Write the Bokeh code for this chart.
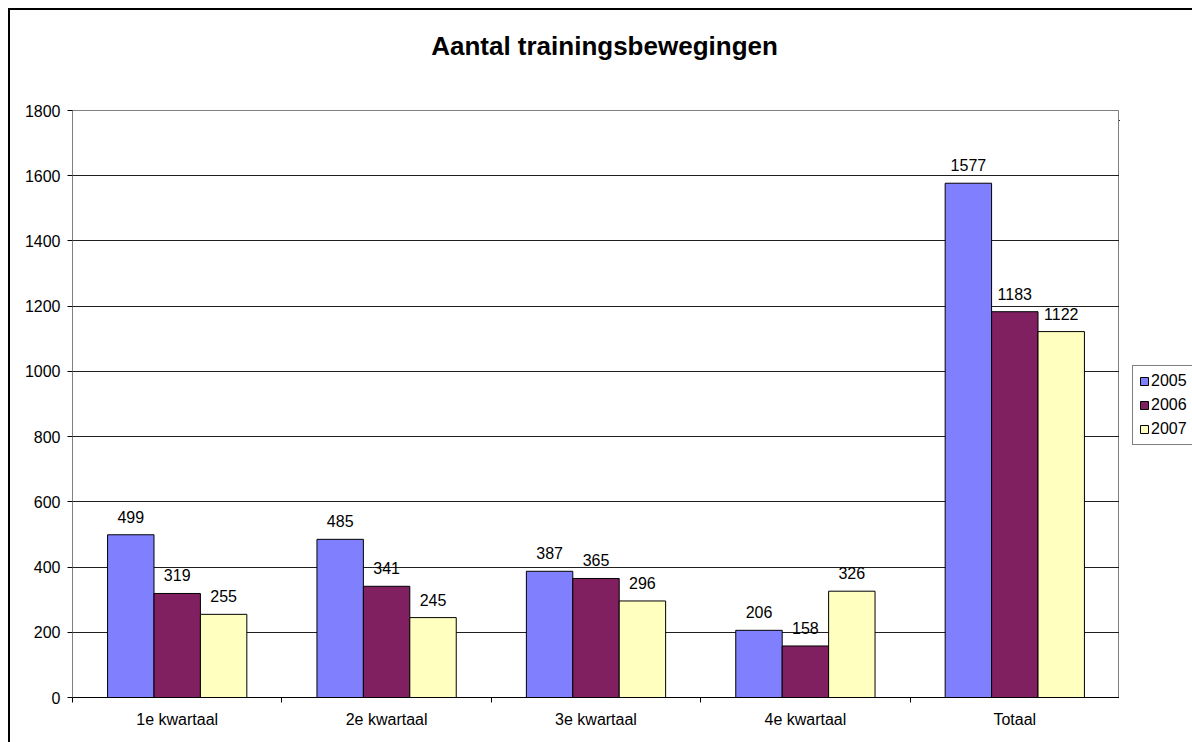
from bokeh.plotting import figure
from bokeh.layouts import row, column
from bokeh.models import Range1d, FixedTicker, Legend, LegendItem, ColumnDataSource, Label
from bokeh.core.properties import value
from bokeh.embed import file_html
from bokeh.resources import INLINE

categories = ["1e kwartaal", "2e kwartaal", "3e kwartaal", "4e kwartaal", "Totaal"]
years = ["2005", "2006", "2007"]
v2005 = [499, 485, 387, 206, 1577]
v2006 = [319, 341, 365, 158, 1183]
v2007 = [255, 245, 296, 326, 1122]
colors = ["#8080FF", "#802060", "#FFFFC0"]
y_ticks = [0, 200, 400, 600, 800, 1000, 1200, 1400, 1600, 1800]
title_text = "Aantal trainingsbewegingen"

FONT = "Liberation Sans"


def bare(fig):
    fig.xgrid.visible = False
    fig.ygrid.visible = False
    fig.outline_line_color = None
    fig.background_fill_alpha = 0
    fig.border_fill_alpha = 0


# ---- title strip ----
tf = figure(width=1184, height=75, x_range=Range1d(0, 1), y_range=Range1d(0, 1),
            output_backend="svg", toolbar_location=None,
            x_axis_location=None, y_axis_location=None,
            min_border_left=0, min_border_right=0, min_border_top=0, min_border_bottom=0)
tf.margin = (8, 0, 0, 8)
tf.styles = {"box-shadow": "inset 2px 2px 0 0 #000000"}
bare(tf)
tf.add_layout(Label(x=0.5, y=0.5, x_offset=4, text=title_text, text_align="center",
                    text_baseline="middle", text_font=FONT, text_font_size="26px",
                    text_font_style="bold", text_color="#000000"))

# ---- main chart ----
p = figure(frame_width=1047, frame_height=587, x_range=Range1d(0, 5), y_range=Range1d(0, 1800),
           output_backend="svg", toolbar_location=None,
           min_border_left=64, min_border_right=0, min_border_top=27, min_border_bottom=45)
p.margin = (0, 0, 0, 8)
p.styles = {"box-shadow": "inset 2px 0 0 0 #000000"}
p.outline_line_color = "#808080"
p.outline_line_width = 1
p.background_fill_color = "white"
p.border_fill_alpha = 0

p.xgrid.visible = False
p.ygrid.ticker = FixedTicker(ticks=y_ticks)
p.ygrid.grid_line_color = "#202020"
p.ygrid.grid_line_width = 1

p.yaxis.ticker = FixedTicker(ticks=y_ticks)
p.yaxis.major_tick_out = 5
p.yaxis.major_tick_in = 0
p.yaxis.minor_tick_out = 0
p.yaxis.minor_tick_in = 0
p.yaxis.axis_line_color = "#808080"
p.yaxis.major_tick_line_color = "#000000"
p.yaxis.major_label_text_font = FONT
p.yaxis.major_label_text_font_size = "16px"
p.yaxis.major_label_text_color = "#000000"
p.yaxis.major_label_standoff = 7

centers = [i + 0.5 for i in range(len(categories))]
p.xaxis.ticker = FixedTicker(ticks=centers, minor_ticks=list(range(len(categories) + 1)))
p.xaxis.major_label_overrides = {c: lab for c, lab in zip(centers, categories)}
p.xaxis.major_tick_out = 0
p.xaxis.major_tick_in = 0
p.xaxis.minor_tick_out = 5
p.xaxis.minor_tick_in = 0
p.xaxis.minor_tick_line_color = "#000000"
p.xaxis.axis_line_color = "#000000"
p.xaxis.major_label_text_font = FONT
p.xaxis.major_label_text_font_size = "16px"
p.xaxis.major_label_text_color = "#000000"
p.xaxis.major_label_standoff = 8

# ---- legend strip (its own small figure right of the plot area) ----
lg = figure(width=73, height=641, x_range=Range1d(100, 101), y_range=Range1d(-20000, -10000),
            output_backend="svg", toolbar_location=None,
            x_axis_location=None, y_axis_location=None,
            min_border_left=0, min_border_right=0, min_border_top=0, min_border_bottom=0)
lg.margin = (10, 0, 0, 0)
bare(lg)

bw = 0.2217
series = [v2005, v2006, v2007]
offsets = [-bw, 0, bw]
legend_renderers = []
for vals, col, off in zip(series, colors, offsets):
    xs = [c + off for c in centers]
    src = ColumnDataSource(dict(x=xs, top=vals, lab=[str(v) for v in vals]))
    p.vbar(x="x", top="top", width=bw, bottom=0, source=src,
           fill_color=col, line_color="#000000", line_width=1)
    p.text(x="x", y="top", text="lab", source=src, text_align="center",
           text_baseline="alphabetic", y_offset=-18, text_font=value(FONT),
           text_font_size="16px", text_color="#000000")
    # same data in the legend strip, far outside its visible ranges: only supplies swatches
    legend_renderers.append(lg.vbar(x="x", top="top", width=bw, bottom=0, source=src,
                                    fill_color=col, line_color="#000000", line_width=1))

legend = Legend(items=[LegendItem(label=y, renderers=[r]) for y, r in zip(years, legend_renderers)],
                location="center_left")
legend.border_line_color = "#000000"
legend.border_line_width = 1
legend.background_fill_color = "white"
legend.background_fill_alpha = 1
legend.glyph_width = 10
legend.glyph_height = 10
legend.label_standoff = 2
legend.label_height = 17
legend.spacing = 6
legend.padding = 6
legend.margin = 13
legend.label_text_font = FONT
legend.label_text_font_size = "16px"
legend.label_text_color = "#000000"
lg.add_layout(legend, "center")

layout = column(tf, row(p, lg, spacing=0), spacing=0)
open("out.html", "w").write(file_html(layout, INLINE))
